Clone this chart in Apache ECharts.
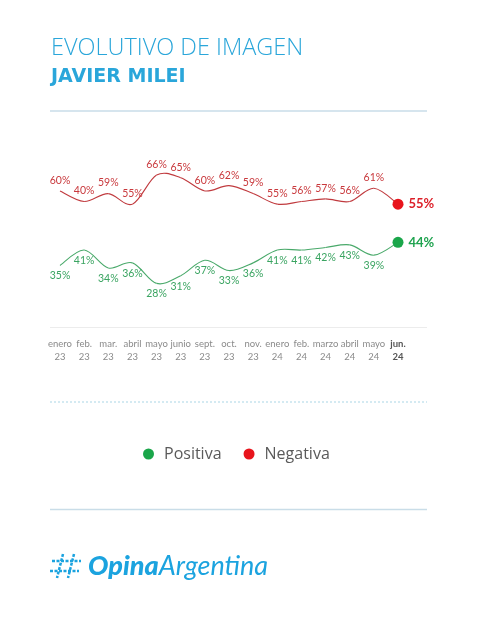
<!DOCTYPE html>
<html>
<head>
<meta charset="utf-8">
<style>
  html, body { margin: 0; padding: 0; background: #fff; }
  #chart { width: 490px; height: 619px; }
</style>
<script src="https://cdn.jsdelivr.net/npm/echarts@6/dist/echarts.min.js"></script>
</head>
<body>
<div id="chart"></div>
<script>
// meses del relevamiento
const meses = ['enero\n23', 'feb.\n23', 'mar.\n23', 'abril\n23', 'mayo\n23', 'junio\n23', 'sept.\n23', 'oct.\n23',
  'nov.\n23', 'enero\n24', 'feb.\n24', 'marzo\n24', 'abril\n24', 'mayo\n24', 'jun.\n24'];
// imagen positiva (%)
const positiva = [35, 41, 34, 36, 28, 31, 37, 33, 36, 41, 41, 42, 43, 39, 44];
// imagen negativa (%): posicion de la linea
const negativa = [60, 56, 59, 55, 66, 65, 60, 62, 59, 55, 56, 57, 56, 61, 55];
// lo que el grafico imprime sobre cada punto (feb. 23 dice 40%)
const negativaRotulo = [60, 40, 59, 55, 66, 65, 60, 62, 59, 55, 56, 57, 56, 61, 55];

const ultimo = meses.length - 1;
const fuente = 'Lato, "Open Sans", sans-serif';

// curva suave tipo planilla (catmull-rom) entre el punto i y el i+1
function tramo(valores, color) {
  return function (params, api) {
    const i = params.dataIndex;
    if (i >= valores.length - 1) return null;
    const p = j => api.coord([Math.max(0, Math.min(valores.length - 1, j)), valores[Math.max(0, Math.min(valores.length - 1, j))]]);
    const p0 = p(i - 1), p1 = p(i), p2 = p(i + 1), p3 = p(i + 2);
    const t = 1 / 6;
    return {
      type: 'bezierCurve',
      shape: {
        x1: p1[0], y1: p1[1], x2: p2[0], y2: p2[1],
        cpx1: p1[0] + (p2[0] - p0[0]) * t, cpy1: p1[1] + (p2[1] - p0[1]) * t,
        cpx2: p2[0] - (p3[0] - p1[0]) * t, cpy2: p2[1] - (p3[1] - p1[1]) * t
      },
      style: { stroke: color, lineWidth: 1.1, fill: null }
    };
  };
}

const myChart = echarts.init(document.getElementById('chart'));

const option = {
  animation: false,
  backgroundColor: '#fff',
  title: [
    {
      text: 'EVOLUTIVO DE IMAGEN',
      left: 46, top: 31,
      textStyle: { fontFamily: '"Open Sans", sans-serif', fontWeight: 300, fontSize: 23.5, color: '#2aa6da' }
    },
    {
      text: 'JAVIER MILEI',
      left: 46, top: 63,
      textStyle: { fontFamily: '"DejaVu Sans", sans-serif', fontWeight: 'bold', fontSize: 19, color: '#2aa6da' }
    },
    {
      text: '{a|Opina}{b|Argentina}',
      left: 83, top: 548,
      textStyle: {
        rich: {
          a: { fontFamily: fuente, fontStyle: 'italic', fontWeight: 900, fontSize: 27, color: '#1ba3df' },
          b: { fontFamily: fuente, fontStyle: 'italic', fontWeight: 'normal', fontSize: 27, color: '#1ba3df' }
        }
      }
    }
  ],
  legend: {
    left: 138, top: 441,
    icon: 'circle',
    itemWidth: 11, itemHeight: 11,
    itemGap: 22,
    selectedMode: false,
    textStyle: { fontFamily: '"Open Sans", sans-serif', fontSize: 16, color: '#5a5a5a', padding: [0, 0, 0, 5] },
    data: ['Positiva', 'Negativa']
  },
  graphic: [
    { type: 'line', shape: { x1: 50, y1: 111, x2: 427, y2: 111 }, style: { stroke: '#c9dde8', lineWidth: 1.5 } },
    { type: 'line', shape: { x1: 50, y1: 327.5, x2: 427, y2: 327.5 }, style: { stroke: '#ececec', lineWidth: 1 } },
    { type: 'line', shape: { x1: 50, y1: 402, x2: 427, y2: 402 }, style: { stroke: '#a9d6e6', lineWidth: 1, lineDash: [2, 2] } },
    { type: 'line', shape: { x1: 50, y1: 509.5, x2: 427, y2: 509.5 }, style: { stroke: '#c9dde8', lineWidth: 1.5 } },
    // numeral punteado del logo
    { type: 'line', shape: { x1: 63, y1: 554, x2: 57, y2: 578 }, style: { stroke: '#1ba3df', lineWidth: 2.5, lineDash: [3, 1.5] } },
    { type: 'line', shape: { x1: 74, y1: 554, x2: 68, y2: 578 }, style: { stroke: '#1ba3df', lineWidth: 2.5, lineDash: [3, 1.5] } },
    { type: 'line', shape: { x1: 52, y1: 561, x2: 81, y2: 561 }, style: { stroke: '#1ba3df', lineWidth: 2.5, lineDash: [3, 1.5] } },
    { type: 'line', shape: { x1: 50, y1: 571, x2: 79, y2: 571 }, style: { stroke: '#1ba3df', lineWidth: 2.5, lineDash: [3, 1.5] } }
  ],
  grid: { left: 60, right: 92, top: 150, bottom: 292 },
  xAxis: {
    type: 'category',
    boundaryGap: false,
    data: meses.map((m, i) => i === ultimo
      ? { value: m, textStyle: { fontWeight: 'bold', color: '#555' } }
      : m),
    axisLine: { show: false },
    axisTick: { show: false },
    splitLine: { show: false },
    axisLabel: {
      interval: 0,
      margin: 10,
      fontFamily: fuente,
      fontSize: 9.5,
      lineHeight: 13,
      color: '#8a8a8a'
    }
  },
  yAxis: [
    { type: 'value', min: 11, max: 80, show: false, splitLine: { show: false } },
    { type: 'value', min: 8.5, max: 75.5, show: false, splitLine: { show: false } }
  ],
  series: [
    {
      name: 'curvaPositiva',
      type: 'custom',
      yAxisIndex: 0,
      silent: true,
      z: 1,
      encode: { x: 0, y: 1 },
      renderItem: tramo(positiva, '#49a96a'),
      data: positiva.map((v, i) => [i, v])
    },
    {
      name: 'curvaNegativa',
      type: 'custom',
      yAxisIndex: 1,
      silent: true,
      z: 1,
      encode: { x: 0, y: 1 },
      renderItem: tramo(negativa, '#c03a3e'),
      data: negativa.map((v, i) => [i, v])
    },
    {
      name: 'Positiva',
      type: 'line',
      yAxisIndex: 0,
      z: 3,
      symbol: 'circle',
      symbolSize: (v, p) => (p.dataIndex === ultimo ? 11 : 0),
      itemStyle: { color: '#1aa64a' },
      lineStyle: { width: 0, opacity: 0 },
      emphasis: { disabled: true },
      label: {
        show: true,
        position: 'bottom',
        distance: 5,
        fontFamily: fuente,
        fontSize: 10.5,
        color: '#3aa461',
        formatter: p => p.value + '%'
      },
      data: positiva.map((v, i) => i === ultimo
        ? { value: v, label: { position: 'right', distance: 5, fontSize: 13, fontWeight: 'bold', color: '#1fa34f' } }
        : v)
    },
    {
      name: 'Negativa',
      type: 'line',
      yAxisIndex: 1,
      z: 3,
      symbol: 'circle',
      symbolSize: (v, p) => (p.dataIndex === ultimo ? 11 : 0),
      itemStyle: { color: '#e8141c' },
      lineStyle: { width: 0, opacity: 0 },
      emphasis: { disabled: true },
      label: {
        show: true,
        position: 'top',
        distance: 5,
        fontFamily: fuente,
        fontSize: 10.5,
        color: '#c9393d',
        formatter: p => negativaRotulo[p.dataIndex] + '%'
      },
      data: negativa.map((v, i) => i === ultimo
        ? { value: v, label: { position: 'right', distance: 5, fontSize: 13, fontWeight: 'bold', color: '#dc1f28' } }
        : v)
    }
  ]
};

myChart.setOption(option);
</script>
</body>
</html>
